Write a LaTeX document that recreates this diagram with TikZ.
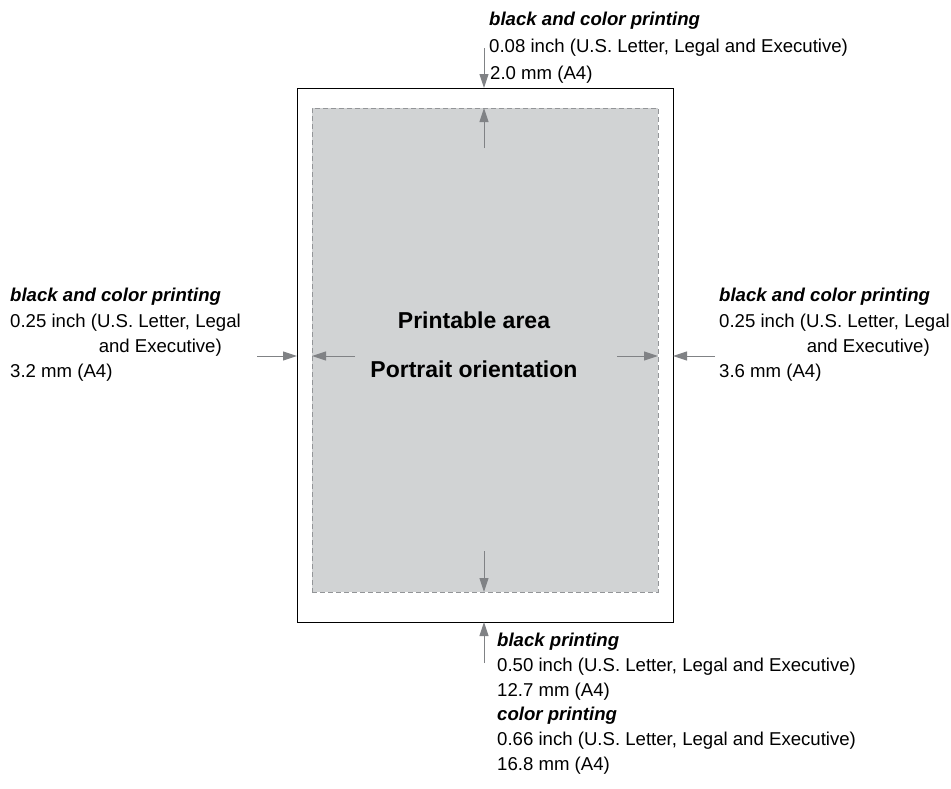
\documentclass[tikz,border=0pt]{standalone}
\usepackage{fontspec}
\setmainfont{Liberation Sans}
\usetikzlibrary{arrows.meta}
\definecolor{areafill}{HTML}{D1D3D4}
\definecolor{arrowgray}{HTML}{808285}
\definecolor{dashgray}{HTML}{939598}
\begin{document}
\begin{tikzpicture}[x=1pt,y=-1pt,
  lbl/.style={inner sep=0pt,font=\fontsize{18.6}{22}\selectfont,anchor=base west},
  hdr/.style={lbl,font=\fontsize{18.6}{22}\selectfont\bfseries\itshape},
  ctr/.style={inner sep=0pt,font=\fontsize{23}{26}\selectfont\bfseries,anchor=base},
  pagebox/.style={draw=black,line width=1pt,fill=white,minimum width=376pt,minimum height=534pt,inner sep=0pt},
  areabox/.style={draw=dashgray,line width=1pt,dash pattern=on 5pt off 3pt,fill=areafill,minimum width=346pt,minimum height=484pt,inner sep=0pt},
  marg/.style={draw=arrowgray,line width=1pt,-{Triangle[length=14pt,width=9pt]}}]
\useasboundingbox (0,0) rectangle (951,788);
\node[pagebox] (page) at (485,355) {};
\node[areabox] (area) at (485,350) {};
% center text
\node[ctr] (t1) at (474,328) {Printable area};
\node[ctr] (t2) at (474,377) {Portrait orientation};
% top labels
\node[hdr] (top1) at (489,25) {black and color printing};
\node[lbl] (top2) at (489,52) {0.08 inch (U.S. Letter, Legal and Executive)};
\node[lbl] (top3) at (490,79) {2.0 mm (A4)};
% left labels
\node[hdr] (l1) at (10,301) {black and color printing};
\node[lbl] (l2) at (10,327) {0.25 inch (U.S. Letter, Legal};
\node[lbl,anchor=base east] (l3) at (222,352) {and Executive)};
\node[lbl] (l4) at (10,377) {3.2 mm (A4)};
% right labels
\node[hdr] (r1) at (719,301) {black and color printing};
\node[lbl] (r2) at (719,327) {0.25 inch (U.S. Letter, Legal};
\node[lbl,anchor=base east] (r3) at (930,352) {and Executive)};
\node[lbl] (r4) at (719,377) {3.6 mm (A4)};
% bottom labels
\node[hdr] (b1) at (497,646) {black printing};
\node[lbl] (b2) at (497,671) {0.50 inch (U.S. Letter, Legal and Executive)};
\node[lbl] (b3) at (497,696) {12.7 mm (A4)};
\node[hdr] (b4) at (497,720) {color printing};
\node[lbl] (b5) at (497,745) {0.66 inch (U.S. Letter, Legal and Executive)};
\node[lbl] (b6) at (497,770) {16.8 mm (A4)};
% arrow coordinates
\coordinate (topout) at (484,48);
\coordinate (topoutend) at (484,88);
\coordinate (topin) at (484,148);
\coordinate (topinend) at (484,108);
\coordinate (botin) at (484,551);
\coordinate (botinend) at (484,592);
\coordinate (botout) at (484,663);
\coordinate (botoutend) at (484,622);
\coordinate (lout) at (257,356);
\coordinate (loutend) at (297,356);
\coordinate (lin) at (355,356);
\coordinate (linend) at (312,356);
\coordinate (rin) at (617,356);
\coordinate (rinend) at (658,356);
\coordinate (rout) at (715,356);
\coordinate (routend) at (673,356);
\draw[marg] (topout) -- (topoutend);
\draw[marg] (topin) -- (topinend);
\draw[marg] (botin) -- (botinend);
\draw[marg] (botout) -- (botoutend);
\draw[marg] (lout) -- (loutend);
\draw[marg] (lin) -- (linend);
\draw[marg] (rin) -- (rinend);
\draw[marg] (rout) -- (routend);
\end{tikzpicture}
\end{document}
